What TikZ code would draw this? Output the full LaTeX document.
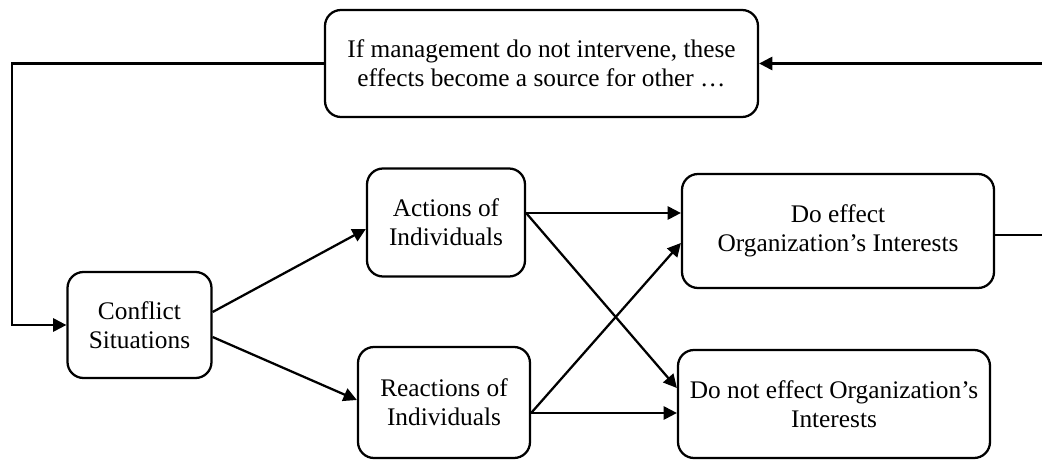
\documentclass[tikz,border=0pt]{standalone}
\usepackage{fontspec}
\setmainfont{Liberation Serif}
\usetikzlibrary{arrows.meta,calc}
\begin{document}
\begin{tikzpicture}[x=0.75pt,y=-0.75pt,
  box/.style={draw,line width=1.7pt,rounded corners=12pt,align=center,inner sep=0pt,font=\fontsize{19}{22}\selectfont},
  conn/.style={line width=1.7pt},
  arr/.style={conn,-{Triangle[length=10pt,width=10pt]}}]
\useasboundingbox (0,0) rectangle (1042,460);
\node[box,minimum width=433*0.75pt,minimum height=107*0.75pt] (top) at (541.5,63.5) {If management do not intervene, these\\effects become a source for other \dots};
\node[box,minimum width=144*0.75pt,minimum height=106*0.75pt] (conf) at (139.5,325) {Conflict\\Situations};
\node[box,minimum width=158*0.75pt,minimum height=108*0.75pt] (act) at (446,222.5) {Actions of\\Individuals};
\node[box,minimum width=172*0.75pt,minimum height=111*0.75pt] (react) at (444,402.5) {Reactions of\\Individuals};
\node[box,minimum width=312*0.75pt,minimum height=114*0.75pt] (doeff) at (838,231) {Do effect\\Organization’s Interests};
\node[box,minimum width=312*0.75pt,minimum height=108*0.75pt] (donot) at (834,404) {Do not effect Organization’s\\Interests};
\coordinate (L) at (12,0);
\coordinate (R) at (1043,0);
\draw[arr] (top.west) -- (top.west -| L) |- (conf.west);
\draw[conn] ([yshift=-4*0.75pt]doeff.east) -- ([yshift=-4*0.75pt]doeff.east -| R);
\draw[arr] (R |- top.east) -- (top.east);
\draw[arr] ([yshift=13*0.75pt]conf.east) -- ([yshift=-6.5*0.75pt]act.west);
\draw[arr] ([yshift=-12*0.75pt]conf.east) -- ([yshift=2.5*0.75pt]react.west);
\draw[arr] ([yshift=9.5*0.75pt]act.east) -- ([yshift=18*0.75pt]doeff.west);
\draw[arr] ([yshift=9.5*0.75pt]act.east) -- ([yshift=16*0.75pt]donot.west);
\draw[arr] ([yshift=-10.5*0.75pt]react.east) -- ([yshift=-12*0.75pt]doeff.west);
\draw[arr] ([yshift=-10.5*0.75pt]react.east) -- ([yshift=-9*0.75pt]donot.west);
\end{tikzpicture}
\end{document}
